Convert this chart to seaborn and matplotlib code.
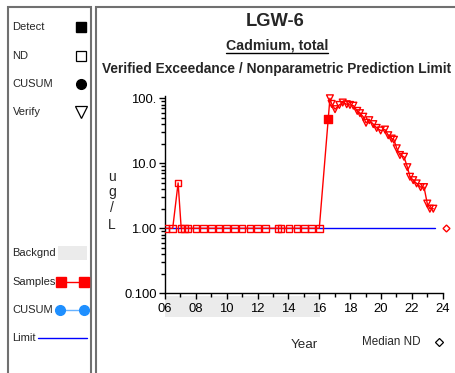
import numpy as np
import pandas as pd
import matplotlib
matplotlib.use("Agg")
import matplotlib.pyplot as plt
import seaborn as sns
from matplotlib.lines import Line2D
from matplotlib.patches import Rectangle
from matplotlib.ticker import FixedLocator, FixedFormatter, LogLocator, NullFormatter
import matplotlib.transforms as mtransforms

# ---------------- data ----------------
nd_years = [2006.05, 2006.5, 2006.85, 2007.05, 2007.25, 2007.5, 2008.0, 2008.5, 2009.0,
            2009.5, 2010.0, 2010.5, 2011.0, 2011.5, 2012.0, 2012.5, 2013.33, 2013.53,
            2014.03, 2014.55, 2015.05, 2015.5, 2016.0]
nd_values = [1.0, 1.0, 5.0, 1.0, 1.0, 1.0, 1.0, 1.0, 1.0, 1.0, 1.0, 1.0, 1.0, 1.0, 1.0,
             1.0, 1.0, 1.0, 1.0, 1.0, 1.0, 1.0, 1.0]
detect_years = [2016.58]
detect_values = [48.0]
verify_years = [2016.69, 2016.80, 2017.02, 2017.30, 2017.52, 2017.78, 2017.99, 2018.21,
                2018.46, 2018.64, 2018.85, 2019.03, 2019.24, 2019.50, 2019.72, 2019.98,
                2020.26, 2020.47, 2020.69, 2020.84, 2021.02, 2021.23, 2021.49, 2021.71,
                2021.88, 2022.09, 2022.31, 2022.57, 2022.79, 2023.00, 2023.17, 2023.39]
verify_values = [100, 82, 68, 79, 86, 81, 79, 77, 64, 59, 52, 42, 46, 40, 35, 32, 33, 27,
                 24, 23, 17, 13.4, 12.6, 8.7, 6.2, 5.5, 4.9, 4.3, 4.3, 2.4, 2.0, 2.0]
limit_years = [2006.0, 2023.5]
limit_values = [1.0, 1.0]
background_span = [2006.0, 2016.05]
median_nd_year = 2024.2
median_nd_value = 1.0
x_ticks = [2006, 2008, 2010, 2012, 2014, 2016, 2018, 2020, 2022, 2024]
x_tick_labels = ["06", "08", "10", "12", "14", "16", "18", "20", "22", "24"]
y_ticks = [0.1, 1.0, 10.0, 100.0]
y_tick_labels = ["0.100", "1.00", "10.0", "100."]

samples = pd.DataFrame({
    "year": nd_years + detect_years + verify_years,
    "value": nd_values + detect_values + verify_values,
    "kind": ["ND"] * len(nd_years) + ["Detect"] * len(detect_years) + ["Verify"] * len(verify_years),
}).sort_values("year")

# ---------------- style ----------------
sns.set_theme(style="white")
plt.rcParams["font.family"] = ["Liberation Sans", "DejaVu Sans"]

W, H = 455, 373
fig = plt.figure(figsize=(W / 100, H / 100), dpi=100)


def fx(x):
    return x / W


def fy(y):
    return 1 - y / H


ax_left, ax_right = 165, 442.7
ax_bottom, ax_top = 293.3, 95.6
ax = fig.add_axes([fx(ax_left), fy(ax_bottom), (ax_right - ax_left) / W, (ax_bottom - ax_top) / H])
ax.set_facecolor("none")

# limit line
sns.lineplot(x=limit_years, y=limit_values, color="#0000FF", lw=1.0, ax=ax, zorder=2)
# sample line
sns.lineplot(data=samples, x="year", y="value", color="red", lw=1.0, ax=ax,
             estimator=None, sort=True, zorder=3)
# markers
nd_df = samples[samples.kind == "ND"]
sns.scatterplot(data=nd_df, x="year", y="value", marker="s", s=22, facecolors="none",
                edgecolors="red", linewidth=1.0, ax=ax, zorder=4)
det_df = samples[samples.kind == "Detect"]
sns.scatterplot(data=det_df, x="year", y="value", marker="s", s=26, color="red",
                edgecolors="red", linewidth=1.0, ax=ax, zorder=4)
ver_df = samples[samples.kind == "Verify"]
sns.scatterplot(data=ver_df, x="year", y="value", marker="v", s=24, facecolors="none",
                edgecolors="red", linewidth=1.0, ax=ax, zorder=4, clip_on=False)
ax.plot([median_nd_year], [median_nd_value], marker="D", ms=3.5, mfc="white", mec="red",
        mew=1.0, clip_on=False, zorder=5)

ax.set_yscale("log")
ax.set_xlim(2006, 2024)
ax.set_ylim(0.1, 110)
ax.set_xlabel("")
ax.set_ylabel("")

for s in ["top", "right"]:
    ax.spines[s].set_visible(False)
for s in ["left", "bottom"]:
    ax.spines[s].set_color("black")
    ax.spines[s].set_linewidth(1.0)

ax.xaxis.set_major_locator(FixedLocator(x_ticks))
ax.xaxis.set_major_formatter(FixedFormatter(x_tick_labels))
ax.xaxis.set_minor_locator(FixedLocator(list(range(2006, 2025))))
ax.yaxis.set_major_locator(FixedLocator(y_ticks))
ax.yaxis.set_major_formatter(FixedFormatter(y_tick_labels))
ax.yaxis.set_minor_locator(LogLocator(base=10, subs=np.arange(2, 10)))
ax.yaxis.set_minor_formatter(NullFormatter())
ax.tick_params(axis="both", which="both", direction="out", color="black", width=1.0,
               labelsize=9.4, labelcolor="black", pad=2)
ax.tick_params(axis="both", which="major", length=4)
ax.tick_params(axis="both", which="minor", length=3)
ax.tick_params(axis="x", pad=3)
ax.xaxis.set_ticks_position("bottom")
ax.yaxis.set_ticks_position("left")

# background band under the axis
trans = mtransforms.blended_transform_factory(ax.transData, ax.transAxes)
bh = (ax_bottom - ax_top)
band = Rectangle((background_span[0], -(316.7 - ax_bottom) / bh),
                 background_span[1] - background_span[0], (316.7 - 296.0) / bh,
                 transform=trans, facecolor="#EBEBEB", edgecolor="none", clip_on=False, zorder=0)
ax.add_patch(band)

# ---------------- titles ----------------
fig.text(fx(275), fy(22), "LGW-6", ha="center", va="center", fontsize=13.2, fontweight="bold")
t2 = fig.text(fx(277), fy(45), "Cadmium, total", ha="center", va="center", fontsize=10.2,
              fontweight="bold")
fig.text(fx(276.5), fy(69), "Verified Exceedance / Nonparametric Prediction Limit",
         ha="center", va="center", fontsize=9.9, fontweight="bold")

# y label stacked
for ch, yy in zip(["u", "g", "/", "L"], [177, 192, 208, 225]):
    fig.text(fx(112), fy(yy), ch, ha="center", va="center", fontsize=10)

fig.text(fx(304), fy(345), "Year", ha="center", va="center", fontsize=9.6)
fig.text(fx(391), fy(342), "Median ND", ha="center", va="center", fontsize=8.4)
fig.add_artist(Line2D([fx(439)], [fy(342)], marker="D", ms=4, mfc="white", mec="black",
                      mew=0.9, transform=fig.transFigure))

# ---------------- legend panel ----------------
leg_items = [("Detect", 27, dict(marker="s", ms=7, mfc="black", mec="black")),
             ("ND", 56, dict(marker="s", ms=7, mfc="white", mec="black", mew=0.9)),
             ("CUSUM", 84, dict(marker="o", ms=7, mfc="black", mec="black")),
             ("Verify", 112, dict(marker="v", ms=8, mfc="white", mec="black", mew=0.9))]
for label, yy, mk in leg_items:
    fig.text(fx(12.5), fy(yy), label, ha="left", va="center", fontsize=8)
    fig.add_artist(Line2D([fx(80.5)], [fy(yy)], linestyle="none", transform=fig.transFigure, **mk))

fig.text(fx(12.5), fy(253), "Backgnd", ha="left", va="center", fontsize=8)
fig.add_artist(Rectangle((fx(57.5), fy(260)), (87 - 57.5) / W, 14 / H, facecolor="#EBEBEB",
                         edgecolor="none", transform=fig.transFigure))
fig.text(fx(12.5), fy(282), "Samples", ha="left", va="center", fontsize=8)
fig.add_artist(Line2D([fx(61), fx(83.5)], [fy(282), fy(282)], color="red", lw=1.0,
                      marker="s", ms=7, mfc="red", mec="red", transform=fig.transFigure))
fig.text(fx(12.5), fy(310), "CUSUM", ha="left", va="center", fontsize=8)
fig.add_artist(Line2D([fx(60), fx(83.5)], [fy(310), fy(310)], color="#66B2FF", lw=1.0,
                      marker="o", ms=7, mfc="#1E8FFF", mec="#1E8FFF", transform=fig.transFigure))
fig.text(fx(12.5), fy(338), "Limit", ha="left", va="center", fontsize=8)
fig.add_artist(Line2D([fx(38), fx(87)], [fy(338), fy(338)], color="#0000FF", lw=1.0,
                      transform=fig.transFigure))

# ---------------- frames ----------------
fig.add_artist(Rectangle((fx(7.5), fy(390)), (91 - 7.5) / W, (390 - 7) / H, facecolor="none",
                         edgecolor="#707070", lw=1.5, transform=fig.transFigure))
fig.add_artist(Rectangle((fx(96), fy(390)), (470 - 96) / W, (390 - 7) / H, facecolor="none",
                         edgecolor="#707070", lw=1.5, transform=fig.transFigure))

# underline for subtitle
fig.canvas.draw()
bb = t2.get_window_extent(renderer=fig.canvas.get_renderer())
uy = bb.y0 - 0.5
fig.add_artist(Line2D([bb.x0 / W, bb.x1 / W], [uy / H, uy / H], color="black", lw=1.0,
                      transform=fig.transFigure))

fig.savefig("out.png", dpi=100)
